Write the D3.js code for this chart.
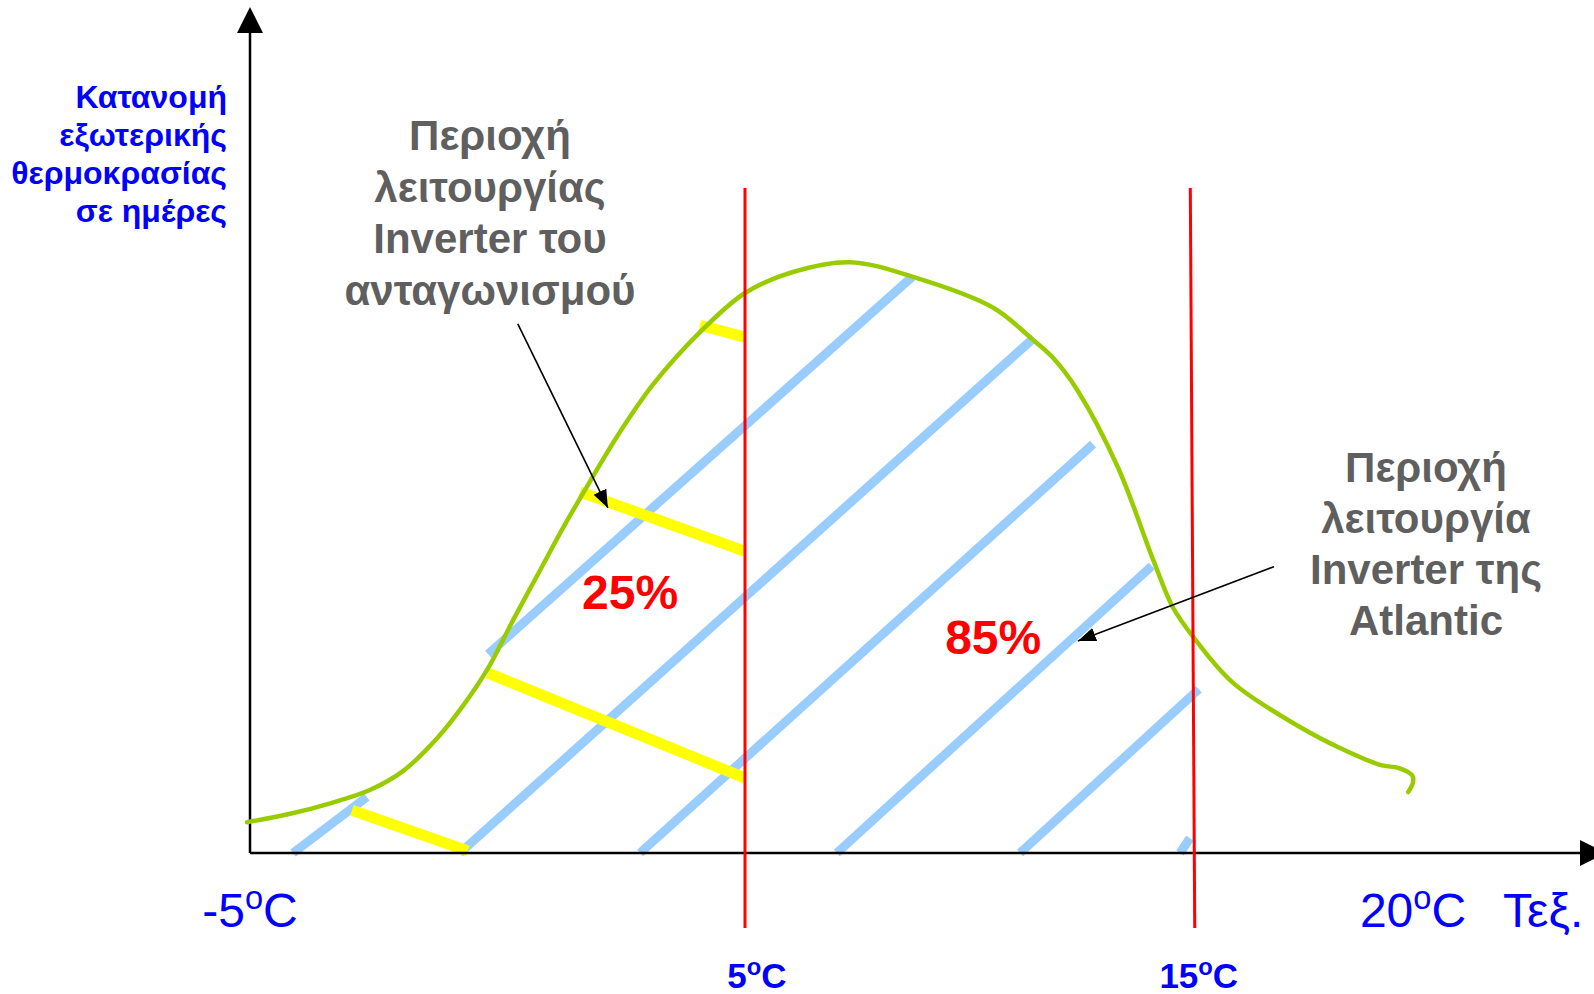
<!DOCTYPE html>
<html>
<head>
<meta charset="utf-8">
<script src="https://cdn.jsdelivr.net/npm/d3@7"></script>
<style>
  body { margin: 0; background: #fff; }
  svg { display: block; font-family: "Liberation Sans", Arial, sans-serif; }
</style>
</head>
<body>
<svg id="chart"></svg>
<script>
// temperature (ºC) vs. relative number of days (0..100, schematic)
const tempStops = [-5, 5, 15, 20];

// distribution curve: temperature, relative days
const curveTemp = [-5.06, -4.19, -3.38, -2.58, -1.91, -1.22, -0.71, -0.19, 0.31, 0.86, 1.36, 1.87, 2.47, 3.14,
    4.09, 5.0, 6.07, 7.34, 8.75, 10.54, 11.43, 11.88, 12.43, 13.33, 14.11, 14.55, 15.0, 15.91, 17.43, 18.34,
    19.25, 19.7, 19.98, 20.0, 19.89];
const curveDays = [4.4, 5.6, 7.1, 9.0, 11.7, 16.4, 20.9, 26.4, 33.2, 40.4, 46.9, 53.1, 60.1, 66.9,
    74.4, 80.0, 83.0, 84.4, 82.3, 77.9, 73.3, 70.7, 66.0, 55.0, 41.9, 35.1, 30.9, 24.3, 18.0, 15.0,
    12.6, 12.1, 11.1, 10.1, 8.7];

// hatching, [t1, v1, t2, v2]
const atlanticHatch = [
    [-4.13, 0, -2.64, 8.0],
    [-0.19, 28.4, 8.73, 82.3],
    [-0.76, 0, 11.45, 73.6],
    [2.88, 0, 12.77, 58.4],
    [7.05, 0, 14.08, 41.0],
    [11.14, 0, 15.13, 23.4],
    [14.71, 0, 14.93, 2.1]
];
const competitorHatch = [
    [4.09, 75.4, 5.0, 73.7],
    [1.67, 51.6, 5.0, 43.1],
    [-0.19, 25.7, 5.0, 10.7],
    [-2.94, 6.1, -0.6, 0.3]
];

// limit lines: label, temp at top, temp at bottom
const limitLabels = ["5", "15"];
const limitTop = [5.0, 14.94];
const limitBottom = [5.0, 15.04];
const limitDays = [95, -10.7];

const axisTicks = [-5, 20];
const axisTickLabels = ["-5", "20"];

const shareLabels = ["25%", "85%"];
const shareTemp = [2.68, 10.54];
const shareDays = [34.9, 28.4];

// annotation arrows, [t1, v1, t2, v2]
const pointers = [
    [0.41, 75.6, 2.23, 49.3],
    [16.84, 40.9, 12.43, 30.3]
];

const yTitle = ["Κατανομή", "εξωτερικής", "θερμοκρασίας", "σε ημέρες"];
const competitorText = ["Περιοχή", "λειτουργίας", "Inverter του", "ανταγωνισμού"];
const atlanticText = ["Περιοχή", "λειτουργία", "Inverter της", "Atlantic"];

const width = 1594, height = 994;
const svg = d3.select("#chart").attr("width", width).attr("height", height);

const x = d3.scaleLinear().domain(tempStops).range([250, 745, 1193, 1413]);
const y = d3.scaleLinear().domain([0, 100]).range([853, 153]);

const blue = "#0000ff", grey = "#5f5f5f";
const limitLabelShift = [12, 4];

svg.append("defs").append("marker")
    .attr("id", "head")
    .attr("markerUnits", "userSpaceOnUse")
    .attr("viewBox", "0 -8 18 16")
    .attr("refX", 18).attr("refY", 0)
    .attr("markerWidth", 18).attr("markerHeight", 16)
    .attr("orient", "auto")
    .append("path").attr("d", "M0,-7L18,0L0,7Z").attr("fill", "#000");

// hatching
svg.append("g").selectAll("line").data(atlanticHatch).join("line")
    .attr("x1", d => x(d[0])).attr("y1", d => y(d[1]))
    .attr("x2", d => x(d[2])).attr("y2", d => y(d[3]))
    .attr("stroke", "#99ccff").attr("stroke-width", 9);

svg.append("g").selectAll("line").data(competitorHatch).join("line")
    .attr("x1", d => x(d[0])).attr("y1", d => y(d[1]))
    .attr("x2", d => x(d[2])).attr("y2", d => y(d[3]))
    .attr("stroke", "#ffff00").attr("stroke-width", 11);

// axes
const x0 = x(tempStops[0]), y0 = y(0);
svg.append("line").attr("x1", x0).attr("y1", y0).attr("x2", x0).attr("y2", 30)
    .attr("stroke", "#000").attr("stroke-width", 2.5);
svg.append("path").attr("d", `M${x0},7L${x0 + 13},33L${x0 - 13},33Z`).attr("fill", "#000");
svg.append("line").attr("x1", x0).attr("y1", y0).attr("x2", 1582).attr("y2", y0)
    .attr("stroke", "#000").attr("stroke-width", 2.5);
svg.append("path").attr("d", `M1606,${y0}L1580,${y0 - 13}L1580,${y0 + 13}Z`).attr("fill", "#000");

// distribution curve
const curve = d3.line()
    .x((d, i) => x(curveTemp[i]))
    .y(d => y(d))
    .curve(d3.curveCatmullRom.alpha(0.5));
svg.append("path")
    .attr("d", curve(curveDays))
    .attr("fill", "none").attr("stroke", "#99cc00").attr("stroke-width", 4.5)
    .attr("stroke-linecap", "round");

// limit lines
svg.append("g").selectAll("line").data(limitLabels).join("line")
    .attr("x1", (d, i) => x(limitTop[i])).attr("y1", y(limitDays[0]))
    .attr("x2", (d, i) => x(limitBottom[i])).attr("y2", y(limitDays[1]))
    .attr("stroke", "#ff0000").attr("stroke-width", 3);

function degreeText(sel, num, size) {
    sel.append("tspan").text(num);
    sel.append("tspan").text("o").attr("font-size", size * 0.68).attr("dy", -size * 0.37);
    sel.append("tspan").text("C").attr("dy", size * 0.37);
}

svg.append("g").selectAll("text").data(limitLabels).join("text")
    .attr("x", (d, i) => x(limitBottom[i]) + limitLabelShift[i]).attr("y", 988)
    .attr("text-anchor", "middle").attr("fill", blue)
    .attr("font-size", 35).attr("font-weight", "bold")
    .each(function (d) { degreeText(d3.select(this), d, 35); });

svg.append("g").selectAll("text").data(axisTickLabels).join("text")
    .attr("x", (d, i) => x(axisTicks[i])).attr("y", 927)
    .attr("text-anchor", "middle").attr("fill", blue).attr("font-size", 48)
    .each(function (d) { degreeText(d3.select(this), d, 48); });

svg.append("text").attr("x", 1503).attr("y", 927)
    .attr("fill", blue).attr("font-size", 48).text("Τεξ.");

// y title
svg.append("g").selectAll("text").data(yTitle).join("text")
    .attr("x", 227).attr("y", (d, i) => 108 + i * 38)
    .attr("text-anchor", "end").attr("fill", blue)
    .attr("font-size", 32).attr("font-weight", "bold").text(d => d);

// region captions
svg.append("g").selectAll("text").data(competitorText).join("text")
    .attr("x", 490).attr("y", (d, i) => 150 + i * 51.7)
    .attr("text-anchor", "middle").attr("fill", grey)
    .attr("font-size", 42).attr("font-weight", "bold").text(d => d);

svg.append("g").selectAll("text").data(atlanticText).join("text")
    .attr("x", 1426).attr("y", (d, i) => 482 + i * 51)
    .attr("text-anchor", "middle").attr("fill", grey)
    .attr("font-size", 42).attr("font-weight", "bold").text(d => d);

// shares
svg.append("g").selectAll("text").data(shareLabels).join("text")
    .attr("x", (d, i) => x(shareTemp[i])).attr("y", (d, i) => y(shareDays[i]))
    .attr("text-anchor", "middle").attr("fill", "#ff0000")
    .attr("font-size", 48).attr("font-weight", "bold").text(d => d);

// pointers
svg.append("g").selectAll("line").data(pointers).join("line")
    .attr("x1", d => x(d[0])).attr("y1", d => y(d[1]))
    .attr("x2", d => x(d[2])).attr("y2", d => y(d[3]))
    .attr("stroke", "#000").attr("stroke-width", 1.6)
    .attr("marker-end", "url(#head)");
</script>
</body>
</html>
